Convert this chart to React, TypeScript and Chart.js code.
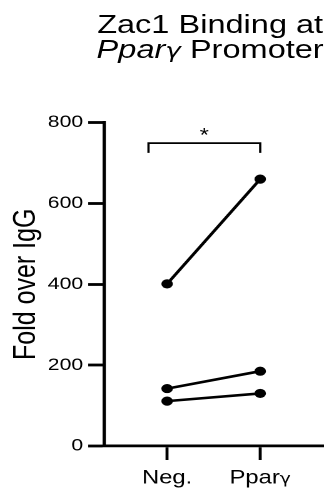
import React, { useEffect, useRef } from "react";
import { Chart, registerables } from "chart.js";

Chart.register(...registerables);

// ---- data ----
const categories = ["Neg.", "Pparγ"];
const negValues = [401, 142, 111];
const pparValues = [660, 185, 130];
const yMin = 0;
const yMax = 800;
const yStep = 200;
const yAxisTitle = "Fold over IgG";
const titleLine1 = "Zac1 Binding at";
const titleItalic = "Ppar";
const titleGreek = "γ";
const titleRest = "Promoter";
const bracketX = [-0.2, -0.2, 1, 1];
const bracketY = [725, 749, 749, 725];
const sigLabel = "*";
const sigX = 0.4;
const sigY = 777;

const FONT = '"Liberation Sans", Arial, Helvetica, sans-serif';
const GREEK_FONT = '"DejaVu Sans", sans-serif';
const W = 267; // drawn width, stretched horizontally to 334
const H = 489;
const STRETCH = 334 / W;
const GREEK_RE = /[\u0370-\u03FF]/;

function splitRuns(text: string) {
  const runs: { t: string; g: boolean }[] = [];
  for (const ch of text) {
    const g = GREEK_RE.test(ch);
    if (runs.length && runs[runs.length - 1].g === g) runs[runs.length - 1].t += ch;
    else runs.push({ t: ch, g });
  }
  return runs;
}

const labelPlugin = {
  id: "labelPlugin",
  afterDatasetsDraw(chart: any) {
    const { ctx, scales, chartArea } = chart;
    ctx.save();
    ctx.fillStyle = "#000";
    ctx.textBaseline = "alphabetic";
    ctx.textAlign = "left";
    // category labels
    const baseY = chartArea.bottom + 37.5;
    categories.forEach((label, i) => {
      const runs = splitRuns(label);
      const fonts = runs.map((r) => (r.g ? `15px ${GREEK_FONT}` : `19px ${FONT}`));
      const widths = runs.map((r, k) => {
        ctx.font = fonts[k];
        return ctx.measureText(r.t).width;
      });
      const total = widths.reduce((a, b) => a + b, 0);
      let x = scales.x.getPixelForValue(i) - total / 2;
      runs.forEach((r, k) => {
        ctx.font = fonts[k];
        ctx.fillText(r.t, x, baseY);
        x += widths[k];
      });
    });
    // significance label
    const px = scales.x.getPixelForValue(sigX);
    const py = scales.y.getPixelForValue(sigY);
    ctx.font = `19px ${FONT}`;
    ctx.textAlign = "center";
    const m = ctx.measureText(sigLabel);
    ctx.fillText(sigLabel, px, py + (m.actualBoundingBoxAscent - m.actualBoundingBoxDescent) / 2);
    ctx.restore();
  },
};

export default function App() {
  const canvasRef = useRef<HTMLCanvasElement | null>(null);

  useEffect(() => {
    if (!canvasRef.current) return;
    const pairDatasets = negValues.map((v, i) => ({
      data: [
        { x: 0, y: v },
        { x: 1, y: pparValues[i] },
      ],
      borderColor: "#000",
      backgroundColor: "#000",
      borderWidth: 2.6,
      pointRadius: 4.6,
      pointBorderWidth: 0,
      pointBackgroundColor: "#000",
      showLine: true,
      fill: false,
      tension: 0,
    }));
    const bracket = {
      data: bracketX.map((x, i) => ({ x, y: bracketY[i] })),
      borderColor: "#000",
      borderWidth: 1.8,
      pointRadius: 0,
      showLine: true,
      fill: false,
      tension: 0,
    };
    const chart = new Chart(canvasRef.current, {
      type: "line",
      data: { datasets: [...pairDatasets, bracket] as any },
      plugins: [labelPlugin],
      options: {
        responsive: false,
        animation: false,
        devicePixelRatio: 2,
        layout: { padding: { top: 122.5, right: W - 258.4, bottom: 0, left: 0 } },
        plugins: { legend: { display: false }, tooltip: { enabled: false }, title: { display: false } },
        scales: {
          x: {
            type: "linear",
            min: -0.673,
            max: 1.677,
            afterBuildTicks: (s: any) => {
              s.ticks = categories.map((_, i) => ({ value: i }));
            },
            afterFit: (s: any) => {
              s.height = 43;
            },
            grid: {
              drawOnChartArea: false,
              drawTicks: true,
              tickLength: 14,
              tickWidth: 2.4,
              tickColor: "#000",
              color: "#000",
            },
            border: { display: true, color: "#000", width: 2.8 },
            ticks: {
              display: false,
              autoSkip: false,
              maxRotation: 0,
            },
          },
          y: {
            type: "linear",
            min: yMin,
            max: yMax,
            afterFit: (s: any) => {
              s.width = 83.5;
            },
            grid: {
              drawOnChartArea: false,
              drawTicks: true,
              tickLength: 13,
              tickWidth: 2.8,
              tickColor: "#000",
              color: "#000",
            },
            border: { display: true, color: "#000", width: 2.6 },
            ticks: {
              stepSize: yStep,
              padding: 4,
              color: "#000",
              font: { family: FONT, size: 17 },
            },
            title: {
              display: true,
              text: yAxisTitle,
              color: "#000",
              font: { family: FONT, size: 25 },
              padding: { top: 6, bottom: 0 },
            },
          },
        },
      } as any,
    });
    return () => chart.destroy();
  }, []);

  return (
    <div
      style={{
        position: "absolute",
        left: 0,
        top: 0,
        width: W,
        height: H,
        transform: `scaleX(${STRETCH})`,
        transformOrigin: "0 0",
        background: "#fff",
      }}
    >
      <canvas ref={canvasRef} width={W} height={H} style={{ position: "absolute", left: 0, top: 0 }} />
      <div
        style={{
          position: "absolute",
          left: 68,
          width: 200,
          top: 11.5,
          fontFamily: FONT,
          fontSize: 26,
          lineHeight: "25px",
          textAlign: "center",
          color: "#000",
          whiteSpace: "nowrap",
        }}
      >
        <div>{titleLine1}</div>
        <div>
          <i>{titleItalic}</i>
          <i style={{ fontFamily: GREEK_FONT, fontSize: 21 }}>{titleGreek}</i> {titleRest}
        </div>
      </div>
    </div>
  );
}
